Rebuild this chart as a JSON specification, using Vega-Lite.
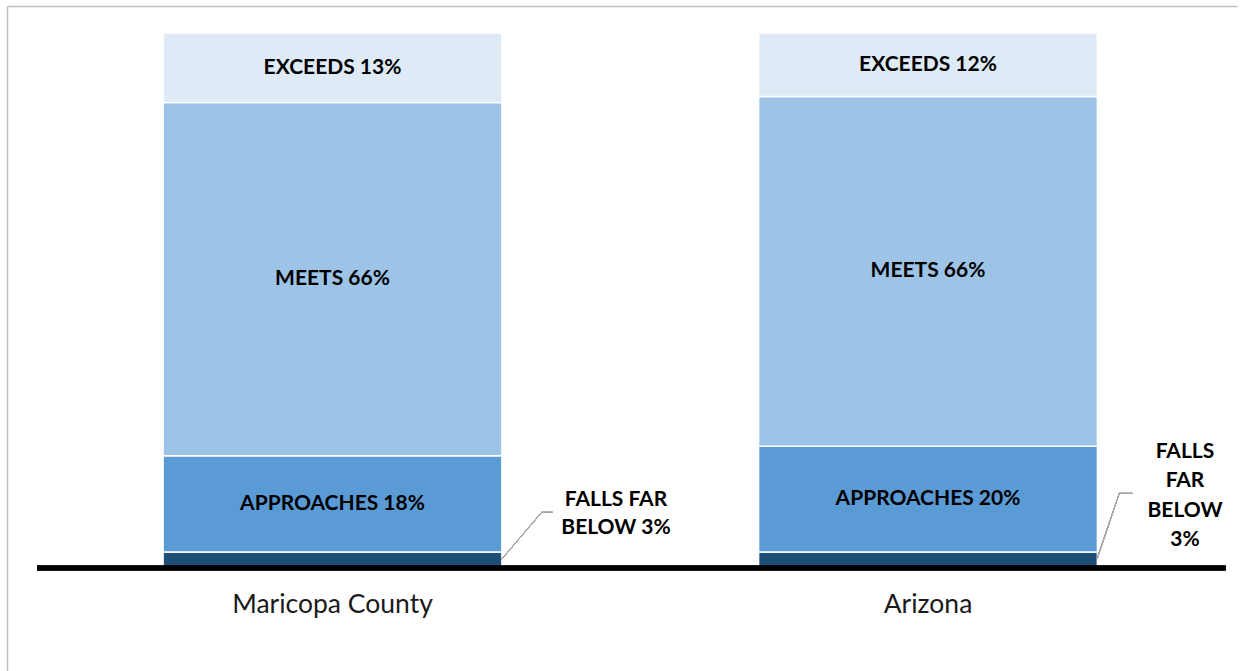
{
  "$schema": "https://vega.github.io/schema/vega-lite/v6.json",
  "width": 1230,
  "height": 665,
  "autosize": {"type": "none"},
  "padding": {"left": 7, "top": 6, "right": 7, "bottom": 0},
  "background": "#ffffff",
  "config": {"view": {"stroke": null}},
  "data": {
    "values": [
      {"region": "Maricopa County", "level": "Falls Far Below", "order": 1, "value": 3, "label": "FALLS FAR\nBELOW 3%"},
      {"region": "Maricopa County", "level": "Approaches", "order": 2, "value": 18, "label": "APPROACHES 18%"},
      {"region": "Maricopa County", "level": "Meets", "order": 3, "value": 66, "label": "MEETS 66%"},
      {"region": "Maricopa County", "level": "Exceeds", "order": 4, "value": 13, "label": "EXCEEDS 13%"},
      {"region": "Arizona", "level": "Falls Far Below", "order": 1, "value": 3, "label": "FALLS\nFAR\nBELOW\n3%"},
      {"region": "Arizona", "level": "Approaches", "order": 2, "value": 20, "label": "APPROACHES 20%"},
      {"region": "Arizona", "level": "Meets", "order": 3, "value": 66, "label": "MEETS 66%"},
      {"region": "Arizona", "level": "Exceeds", "order": 4, "value": 12, "label": "EXCEEDS 12%"}
    ]
  },
  "layer": [
    {
      "mark": {"type": "bar", "width": {"band": 0.569}, "stroke": "#ffffff", "strokeWidth": 1.5},
      "encoding": {
        "x": {
          "field": "region", "type": "nominal", "sort": ["Maricopa County", "Arizona"],
          "scale": {"paddingInner": 0, "paddingOuter": 0.032746, "align": 0.7115},
          "axis": {"orient": "top", "labels": false, "ticks": false, "title": null, "domainColor": "#bfbfbf", "domainWidth": 1.5}
        },
        "y": {
          "field": "value", "type": "quantitative", "stack": "normalize",
          "scale": {"domain": [-0.19252, 1.05047], "nice": false, "zero": false},
          "axis": {"labels": false, "ticks": false, "grid": false, "title": null, "domainColor": "#bfbfbf", "domainWidth": 1.5}
        },
        "color": {
          "field": "level", "type": "nominal", "legend": null,
          "scale": {"domain": ["Falls Far Below", "Approaches", "Meets", "Exceeds"], "range": ["#1f4e79", "#5b9bd5", "#9dc3e6", "#deebf7"]}
        },
        "order": {"field": "order", "type": "quantitative", "sort": "ascending"}
      }
    },
    {
      "transform": [
        {"stack": "value", "groupby": ["region"], "offset": "normalize", "sort": [{"field": "order", "order": "ascending"}], "as": ["y0", "y1"]},
        {"fold": ["y0", "y1"], "as": ["k", "v"]},
        {"aggregate": [{"op": "mean", "field": "v", "as": "mid"}], "groupby": ["region", "order", "label"]},
        {"filter": "datum.order > 1"}
      ],
      "mark": {"type": "text", "font": "Lato", "fontWeight": "bold", "fontSize": 21, "color": "#000000", "baseline": "middle", "align": "center"},
      "encoding": {
        "x": {"field": "region", "type": "nominal", "sort": ["Maricopa County", "Arizona"]},
        "y": {"field": "mid", "type": "quantitative"},
        "text": {"field": "label"}
      }
    },
    {
      "transform": [
        {"stack": "value", "groupby": ["region"], "offset": "normalize", "sort": [{"field": "order", "order": "ascending"}], "as": ["y0", "y1"]},
        {"fold": ["y0", "y1"], "as": ["k", "v"]},
        {"aggregate": [{"op": "mean", "field": "v", "as": "mid"}], "groupby": ["region", "order", "label"]},
        {"filter": "datum.order == 1 && datum.region == 'Maricopa County'"}
      ],
      "mark": {"type": "text", "font": "Lato", "fontWeight": "bold", "fontSize": 21, "color": "#000000", "baseline": "middle", "align": "center", "lineBreak": "\n", "lineHeight": 28, "dx": 283.5, "dy": -60},
      "encoding": {
        "x": {"field": "region", "type": "nominal", "sort": ["Maricopa County", "Arizona"]},
        "y": {"field": "mid", "type": "quantitative"},
        "text": {"field": "label"}
      }
    },
    {
      "transform": [
        {"stack": "value", "groupby": ["region"], "offset": "normalize", "sort": [{"field": "order", "order": "ascending"}], "as": ["y0", "y1"]},
        {"fold": ["y0", "y1"], "as": ["k", "v"]},
        {"aggregate": [{"op": "mean", "field": "v", "as": "mid"}], "groupby": ["region", "order", "label"]},
        {"filter": "datum.order == 1 && datum.region == 'Arizona'"}
      ],
      "mark": {"type": "text", "font": "Lato", "fontWeight": "bold", "fontSize": 21, "color": "#000000", "baseline": "middle", "align": "center", "lineBreak": "\n", "lineHeight": 29.3, "dx": 257, "dy": -108},
      "encoding": {
        "x": {"field": "region", "type": "nominal", "sort": ["Maricopa County", "Arizona"]},
        "y": {"field": "mid", "type": "quantitative"},
        "text": {"field": "label"}
      }
    },
    {
      "transform": [{"filter": "datum.order == 1"}],
      "mark": {"type": "text", "font": "Lato", "fontSize": 26.5, "color": "#1a1a1a", "baseline": "middle", "align": "center"},
      "encoding": {
        "x": {"field": "region", "type": "nominal", "sort": ["Maricopa County", "Arizona"]},
        "y": {"datum": -0.0692, "type": "quantitative"},
        "text": {"field": "region"}
      }
    },
    {
      "mark": {"type": "rule", "color": "#000000", "strokeWidth": 4.5},
      "encoding": {
        "x": {"datum": "Maricopa County", "type": "nominal", "bandPosition": 0.004},
        "x2": {"datum": "Arizona", "bandPosition": 1},
        "y": {"datum": 0, "type": "quantitative"}
      }
    },
    {
      "mark": {"type": "rule", "color": "#a6a6a6", "strokeWidth": 1},
      "encoding": {
        "x": {"datum": "Maricopa County", "type": "nominal", "bandPosition": 0.784},
        "x2": {"datum": "Maricopa County", "bandPosition": 0.8513},
        "y": {"datum": 0.01626, "type": "quantitative"},
        "y2": {"datum": 0.1041}
      }
    },
    {
      "mark": {"type": "rule", "color": "#a6a6a6", "strokeWidth": 1},
      "encoding": {
        "x": {"datum": "Maricopa County", "type": "nominal", "bandPosition": 0.8513},
        "x2": {"datum": "Maricopa County", "bandPosition": 0.8698},
        "y": {"datum": 0.1041, "type": "quantitative"}
      }
    },
    {
      "mark": {"type": "rule", "color": "#a6a6a6", "strokeWidth": 1},
      "encoding": {
        "x": {"datum": "Arizona", "type": "nominal", "bandPosition": 0.7843},
        "x2": {"datum": "Arizona", "bandPosition": 0.8212},
        "y": {"datum": 0.01813, "type": "quantitative"},
        "y2": {"datum": 0.1396}
      }
    },
    {
      "mark": {"type": "rule", "color": "#a6a6a6", "strokeWidth": 1},
      "encoding": {
        "x": {"datum": "Arizona", "type": "nominal", "bandPosition": 0.8212},
        "x2": {"datum": "Arizona", "bandPosition": 0.8431},
        "y": {"datum": 0.1396, "type": "quantitative"}
      }
    }
  ]
}
